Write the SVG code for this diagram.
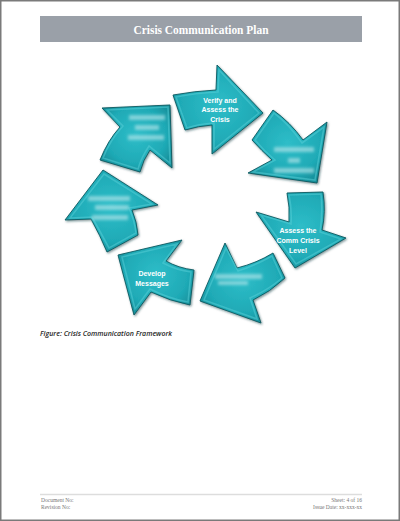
<svg xmlns="http://www.w3.org/2000/svg" width="400" height="521" viewBox="0 0 400 521">
<style>
.arrow{fill:url(#teal);stroke:#0c5960;stroke-width:0.9;stroke-linejoin:miter;filter:url(#shadow)}
.bevel{fill:none;stroke:#58cfd8;stroke-width:1.6;stroke-opacity:0.5;stroke-linejoin:miter}
.lbl{font-family:"Liberation Sans",Arial,sans-serif;font-weight:bold;font-size:7px;fill:#ffffff;text-anchor:middle}
.blur{fill:#bfe9ed;opacity:0.6;filter:url(#blurf)}
.foot{font-family:"Liberation Serif","Times New Roman",serif;font-size:5.5px;fill:#777}
</style>
<defs>
<radialGradient id="teal" cx="50%" cy="45%" r="60%">
<stop offset="0" stop-color="#2ebdc8"/>
<stop offset="0.7" stop-color="#1faab6"/>
<stop offset="1" stop-color="#178f9a"/>
</radialGradient>
<filter id="shadow" x="-20%" y="-20%" width="140%" height="140%">
<feDropShadow dx="1" dy="1.2" stdDeviation="0.8" flood-color="#0a3a3f" flood-opacity="0.55"/>
</filter>
<filter id="blurf" x="-30%" y="-80%" width="160%" height="260%">
<feGaussianBlur stdDeviation="1.8"/>
</filter>
</defs>
<rect x="0.75" y="0.75" width="398.5" height="519.5" fill="#ffffff" stroke="#7a7a7a" stroke-width="1.5"/>
<g id="header">
<rect x="40" y="16" width="322" height="26" fill="#9aa0a8"/>
<text x="201" y="33.5" text-anchor="middle" font-family="Liberation Serif,'Times New Roman',serif" font-weight="bold" font-size="11.5" fill="#ffffff" textLength="135" lengthAdjust="spacingAndGlyphs">Crisis Communication Plan</text>
</g>
<g id="connectors"></g>
<g id="arrow-verify">
<path class="arrow" d="M173,95 Q195,91 216,90 L217,65 L263,113 L212,154 L212,125 Q198,126 185,130 Z"/>
<path class="bevel" d="M176,97 Q195,93 218,92 L219,70 L259,113 L214,149 L214,123 Q198,124 187,128 Z"/>
<text class="lbl" x="220" y="102.5">Verify and</text>
<text class="lbl" x="220" y="112">Assess the</text>
<text class="lbl" x="220" y="121.5">Crisis</text>
</g>
<g id="arrow-upper-right">
<path class="arrow" d="M252,140 L273,110 Q290,122 303,140 L327,122 L317,183 L248,173 L272,160 Q262,151 252,140 Z"/>
<path class="bevel" d="M255,140 L274,113 Q289,124 302,143 L324,127 L315,180 L253,172 L275,160 Q264,151 255,140 Z"/>
<rect class="blur" x="274" y="147" width="40" height="5"/>
<rect class="blur" x="288" y="158" width="12" height="5"/>
<rect class="blur" x="274" y="168" width="40" height="5"/>
</g>
<g id="arrow-assess-level">
<path class="arrow" d="M287,193 L323,192 Q326,212 322,230 L346,238 L295,268 L256,212 L289,222 Q290,207 287,193 Z"/>
<path class="bevel" d="M289,195 L321,194 Q323,212 320,232 L341,239 L296,264 L261,215 L291,224 Q292,208 289,195 Z"/>
<text class="lbl" x="298" y="232.5">Assess the</text>
<text class="lbl" x="298" y="242.5">Comm Crisis</text>
<text class="lbl" x="298" y="252.5">Level</text>
</g>
<g id="arrow-lower-right">
<path class="arrow" d="M237,268 L225,243 L200,301 L261,323 L253,300 Q270,292 285,278 L273,253 Q257,263 237,268 Z"/>
<path class="bevel" d="M238,271 L226,248 L204,300 L257,319 L250,298 Q268,290 282,278 L272,256 Q256,265 238,271 Z"/>
<rect class="blur" x="215" y="274" width="47" height="5"/>
<rect class="blur" x="218" y="281" width="30" height="4"/>
</g>
<g id="arrow-develop">
<path class="arrow" d="M166,261 L182,240 L118,255 L134,315 L151,292 Q170,301 190,305 L194,270 Q178,268 166,261 Z"/>
<path class="bevel" d="M163,263 L177,244 L122,257 L135,309 L150,289 Q170,299 188,302 L191,272 Q176,270 163,263 Z"/>
<text class="lbl" x="152" y="275.5">Develop</text>
<text class="lbl" x="152" y="285.5">Messages</text>
</g>
<g id="arrow-left">
<path class="arrow" d="M103,170 L158,205 L132,210 Q137,222 138,235 L107,252 Q100,235 91,219 L65,220 Z"/>
<path class="bevel" d="M104,174 L152,204 L129,208 Q135,222 136,233 L109,248 Q101,233 92,217 L70,218 Z"/>
<rect class="blur" x="88" y="196" width="42" height="5"/>
<rect class="blur" x="95" y="205" width="34" height="5"/>
<rect class="blur" x="92" y="215" width="36" height="5"/>
</g>
<g id="arrow-upper-left">
<path class="arrow" d="M102,108 L170,105 L172,168 L150,150 Q143,160 140,172 L100,160 Q108,140 120,127 Z"/>
<path class="bevel" d="M107,110 L168,107 L170,163 L149,146 Q141,158 138,169 L103,158 Q110,140 123,126 Z"/>
<rect class="blur" x="129" y="115" width="36" height="5"/>
<rect class="blur" x="135" y="125" width="24" height="5"/>
<rect class="blur" x="128" y="135" width="36" height="5"/>
</g>
<text x="40" y="336" font-family="Open Sans,'Liberation Sans',sans-serif" font-style="italic" font-weight="600" font-size="7.5" fill="#262626" textLength="132" lengthAdjust="spacingAndGlyphs">Figure: Crisis Communication Framework</text>
<g id="footer">
<line x1="40" y1="494.5" x2="362" y2="494.5" stroke="#dddddd" stroke-width="1.5"/>
<text class="foot" x="41" y="501.5">Document No:</text>
<text class="foot" x="41" y="509">Revision No:</text>
<text class="foot" x="362" y="501.5" text-anchor="end">Sheet: 4 of 16</text>
<text class="foot" x="362" y="509" text-anchor="end">Issue Date: xx-xxx-xx</text>
</g>
</svg>
